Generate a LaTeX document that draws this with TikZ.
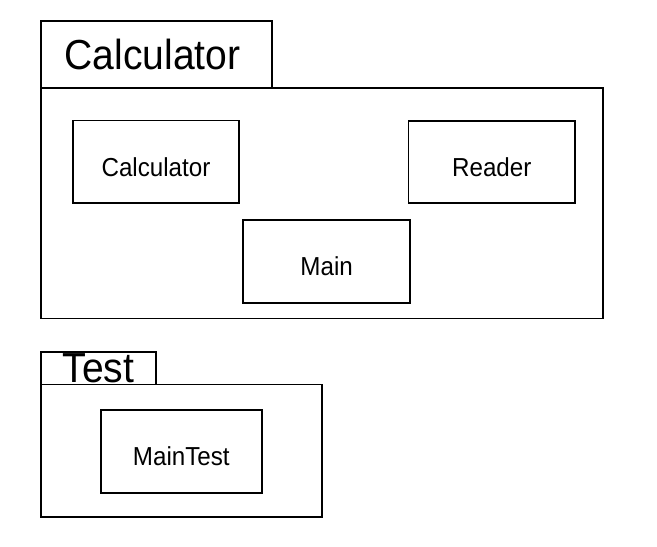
\documentclass[tikz,border=0pt]{standalone}
\usepackage{fontspec}
\setmainfont{Liberation Sans}[FakeStretch=0.93]
\begin{document}
\begin{tikzpicture}[x=1pt,y=-1pt,
  outerbox/.style={draw=black,line width=1.4pt,rectangle,inner sep=0pt},
  classbox/.style={draw=black,line width=1.8pt,rectangle,inner sep=0pt,
    font=\fontsize{26}{30}\selectfont,text height=28.6pt,text depth=0pt},
  tabbig/.style={outerbox,font=\fontsize{42}{48}\selectfont,text depth=0pt}]
\useasboundingbox (0,0) rectangle (657,547);
\fill[white] (0,0) rectangle (657,547);
% Calculator package
\node[outerbox,minimum width=562pt,minimum height=230.5pt] (calcbody) at (322,203.3) {};
\node[tabbig,text height=29pt,minimum width=231pt,minimum height=67pt] (calctab) at (156.5,54.5) {\kern-8pt Calculator};
\node[classbox,minimum width=166pt,minimum height=82.5pt] (calc) at (156,161.8) {Calculator};
\node[classbox,minimum width=166.5pt,minimum height=82pt] (reader) at (491.8,161.8) {Reader};
\node[classbox,minimum width=166.7pt,minimum height=82.7pt] (main) at (326.7,261.3) {Main};
% Test package
\node[outerbox,minimum width=281pt,minimum height=132.5pt] (testbody) at (181.5,450.7) {};
\node[tabbig,text height=28.2pt,minimum width=115pt,minimum height=32.5pt] (testtab) at (98.5,368.2) {Test};
\node[classbox,minimum width=160.7pt,minimum height=82.7pt] (maintest) at (181.3,451.3) {MainTest};
\end{tikzpicture}
\end{document}
